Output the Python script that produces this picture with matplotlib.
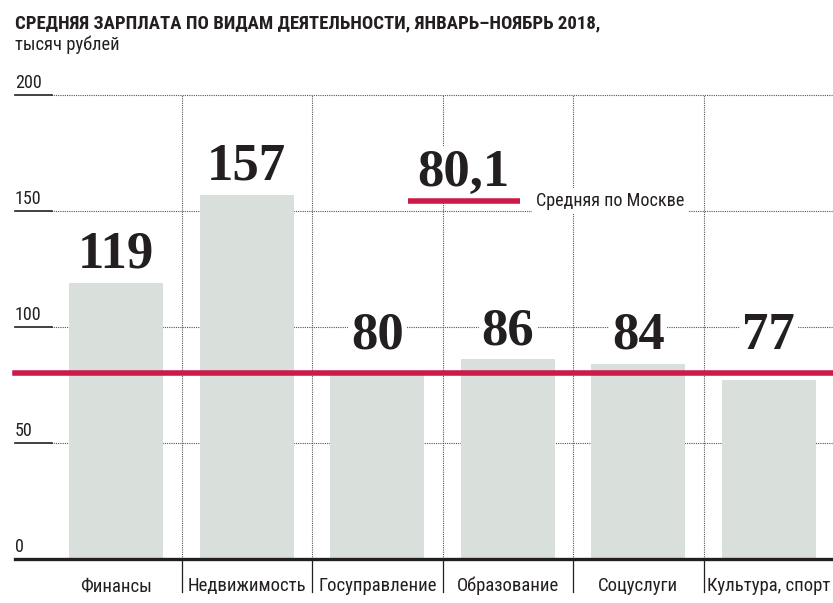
import matplotlib
matplotlib.use("Agg")
import matplotlib.pyplot as plt
from matplotlib import font_manager
from matplotlib.transforms import blended_transform_factory

names = set(f.name for f in font_manager.fontManager.ttflist)
narrow = "Roboto"
for cand in ["Liberation Sans Narrow", "Roboto Condensed", "Open Sans Condensed", "DejaVu Sans Condensed"]:
    if cand in names:
        narrow = cand
        break
serif = "Liberation Serif"

# data
categories = ["Финансы", "Недвижимость", "Госуправление", "Образование", "Соцуслуги", "Культура, спорт"]
values = [119, 157, 80, 86, 84, 77]
moscow_avg = 80.1
yticks = [0, 50, 100, 150, 200]

title = "СРЕДНЯЯ ЗАРПЛАТА ПО ВИДАМ ДЕЯТЕЛЬНОСТИ, ЯНВАРЬ–НОЯБРЬ 2018,"
subtitle = "тысяч рублей"

bar_color = "#d9e0dc"
red = "#cc1a4b"
ink = "#231f20"

W, H = 833, 603
fig = plt.figure(figsize=(W / 100, H / 100), dpi=100)
ax = fig.add_axes([51 / W, 44 / H, 783 / W, 464 / H])
ax.set_xlim(-0.5, len(categories) - 0.5)
ax.set_ylim(0, 200)
ax.axis("off")

x = list(range(len(categories)))
ax.bar(x, values, width=0.72, color=bar_color, zorder=2)

left_x = 15 / W
tr = blended_transform_factory(fig.transFigure, ax.transData)

# gridlines + tick labels
for t in yticks[1:]:
    ax.plot([-0.5, len(categories) - 0.5], [t, t], color="#555555", lw=0.8,
            ls=(0, (1, 1)), zorder=0, clip_on=False)
for t in yticks:
    ax.plot([left_x, 52 / W], [t, t], color=ink, lw=1.2, transform=tr, clip_on=False, zorder=3)
    ax.annotate(str(t), xy=(left_x, t), xycoords=tr, xytext=(0, 5), textcoords="offset points",
                ha="left", va="baseline", fontsize=13, family=narrow, color=ink)

# vertical separators
for i in range(len(categories) - 1):
    ax.plot([i + 0.5, i + 0.5], [0, 200], color="#555555", lw=0.8, ls=(0, (1, 1)), zorder=0)
    ax.plot([i + 0.5, i + 0.5], [0, -0.072], color=ink, lw=0.9,
            transform=blended_transform_factory(ax.transData, ax.transAxes), clip_on=False)

# axis line
ax.plot([left_x, 1], [0, 0], color=ink, lw=2.4, transform=tr, clip_on=False, zorder=4)

# moscow average
ax.plot([left_x, 1], [moscow_avg, moscow_avg], color=red, lw=4, transform=tr,
        clip_on=False, zorder=5)

# value labels (low ones lifted clear of the average line)
for xi, v in zip(x, values):
    ax.annotate(str(v), xy=(xi, max(v, 84)), xytext=(0, 11), textcoords="offset points",
                ha="center", va="baseline", fontsize=38, fontweight="bold", family=serif,
                color=ink, zorder=1,
                bbox=dict(boxstyle="square,pad=0.05", fc="white", ec="none"))

# category labels
for xi, c in zip(x, categories):
    ax.text(xi, -0.07, c, transform=blended_transform_factory(ax.transData, ax.transAxes),
            ha="center", va="baseline", fontsize=13.5, family=narrow, color=ink)

# legend
ax.text(2.657, 160.8, "80,1", ha="center", va="baseline", fontsize=38, fontweight="bold",
        family=serif, color=ink, zorder=6,
        bbox=dict(boxstyle="square,pad=0.05", fc="white", ec="none"))
ax.plot([2.236, 3.094], [154.3, 154.3], color=red, lw=4, solid_capstyle="butt", zorder=6)
ax.text(3.216, 154.5, "Средняя по Москве", ha="left", va="center", fontsize=13.1,
        family=narrow, color=ink, zorder=6,
        bbox=dict(boxstyle="square,pad=0.2", fc="white", ec="none"))

fig.text(left_x, 1 - 28 / H, title, ha="left", va="baseline", fontsize=13.5,
         fontweight="bold", family=narrow, color=ink)
fig.text(left_x, 1 - 50 / H, subtitle, ha="left", va="baseline", fontsize=13.3,
         family=narrow, color=ink)

fig.savefig("out.png", dpi=100)
